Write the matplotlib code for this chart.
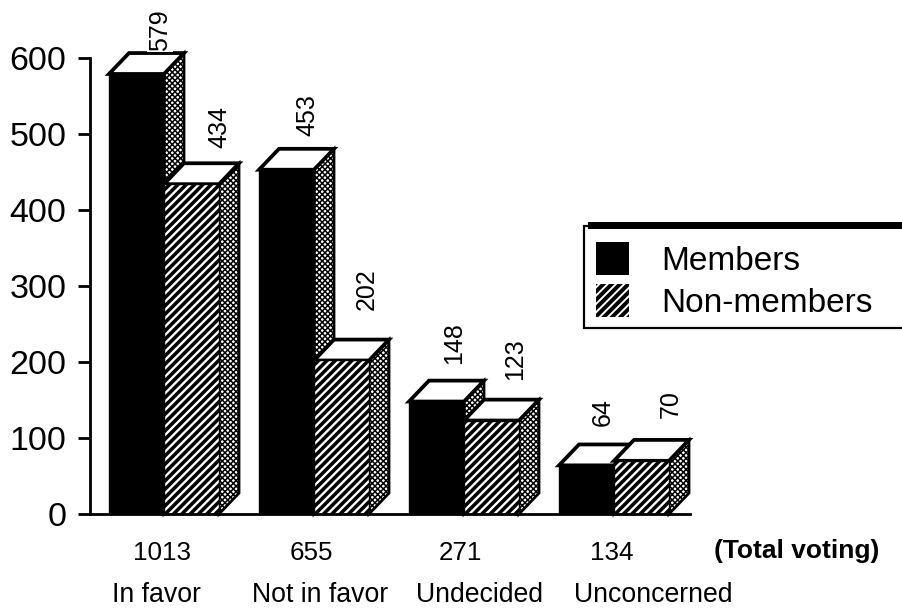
import matplotlib
matplotlib.use("Agg")
import matplotlib.pyplot as plt
from matplotlib.patches import Polygon, Rectangle

plt.rcParams["font.family"] = ["Liberation Sans", "DejaVu Sans"]

categories = ["In favor", "Not in favor", "Undecided", "Unconcerned"]
totals = [1013, 655, 271, 134]
members = [579, 453, 148, 64]
non_members = [434, 202, 123, 70]
yticks = [0, 100, 200, 300, 400, 500, 600]

# label offsets from the bar centre / back edge, in points
member_off = [(17, 1.5), (15, 9), (13, 12), (12, 13)]
non_member_off = [(20, 11), (18, 21), (17, 14), (21, 16)]
# category label centres in picture pixels
cat_x = [157, 320, 479, 653]
total_x = [162, 311, 460, 612]

W, H = 902, 609
fig = plt.figure(figsize=(W / 100, H / 100), dpi=100)
ax = fig.add_axes([90 / W, 95 / H, 600 / W, 456 / H])
ax.set_xlim(-74 / 150, 526 / 150)
ax.set_ylim(0, 600)

bw = 55 / 150   # bar width
dx = 20 / 150   # depth offset
dy = 27.5       # depth offset in value units


def bar3d(x, v, front_hatch, z, off):
    side = [(x + bw, 0), (x + bw + dx, dy), (x + bw + dx, v + dy), (x + bw, v)]
    plt.rcParams["hatch.linewidth"] = 1.1
    ax.add_patch(Polygon(side, facecolor="white", edgecolor="black", hatch="xxxxxx", lw=0,
                         zorder=z, clip_on=False))
    ax.add_patch(Polygon(side, fill=False, edgecolor="black", lw=2, zorder=z, clip_on=False))
    ax.add_patch(Polygon([(x, v), (x + dx, v + dy), (x + bw + dx, v + dy), (x + bw, v)],
                         facecolor="white", edgecolor="black", lw=2.7, joinstyle="miter",
                         zorder=z, clip_on=False))
    plt.rcParams["hatch.linewidth"] = 1.7
    ax.bar(x, v, bw, align="edge", facecolor="black", edgecolor="white" if front_hatch else "black",
           hatch=front_hatch, lw=0, zorder=z + 0.1)
    ax.add_patch(Rectangle((x, 0), bw, v, fill=False, edgecolor="black", lw=1.0,
                           zorder=z + 0.2, clip_on=False))
    ax.annotate(str(v), (x + bw / 2, v + dy), xytext=off, textcoords="offset points",
                rotation=90, ha="center", va="bottom", fontsize=18, zorder=20,
                annotation_clip=False,
                bbox=dict(facecolor="white", edgecolor="none", pad=0.5))


for i in range(len(categories)):
    bar3d(i - bw, members[i], None, 2 + i, member_off[i])
    bar3d(i, non_members[i], "////", 3 + i, non_member_off[i])

for s in ["top", "right"]:
    ax.spines[s].set_visible(False)
for s in ["left", "bottom"]:
    ax.spines[s].set_linewidth(2)
    ax.spines[s].set_zorder(30)

ax.set_yticks(yticks)
ax.tick_params(axis="y", length=9, width=2, labelsize=24.5, pad=8)
ax.set_xticks([])

# overlay in picture pixels for the text rows and the legend
ov = fig.add_axes([0, 0, 1, 1], facecolor="none")
ov.set_xlim(0, W)
ov.set_ylim(H, 0)
ov.axis("off")

for i in range(len(categories)):
    ov.text(total_x[i], 553, str(totals[i]), ha="center", va="center", fontsize=18.7)
    ov.text(cat_x[i], 595, categories[i], ha="center", va="center", fontsize=19.2)
ov.text(797, 551, "(Total voting)", ha="center", va="center", fontsize=19, fontweight="bold")

ov.add_patch(Rectangle((584, 226), 330, 102, facecolor="white", edgecolor="black", lw=1.6))
ov.add_patch(Rectangle((588, 222), 320, 7, facecolor="black", edgecolor="none"))
plt.rcParams["hatch.linewidth"] = 1.4
ov.add_patch(Rectangle((596, 242), 33, 33, facecolor="black", edgecolor="none"))
ov.add_patch(Rectangle((596, 284), 33, 33, facecolor="black", edgecolor="white", hatch="////", lw=0))
ov.text(661, 261, "Members", ha="left", va="center", fontsize=24)
ov.text(661, 303, "Non-members", ha="left", va="center", fontsize=24)

fig.savefig("out.png", dpi=100)
